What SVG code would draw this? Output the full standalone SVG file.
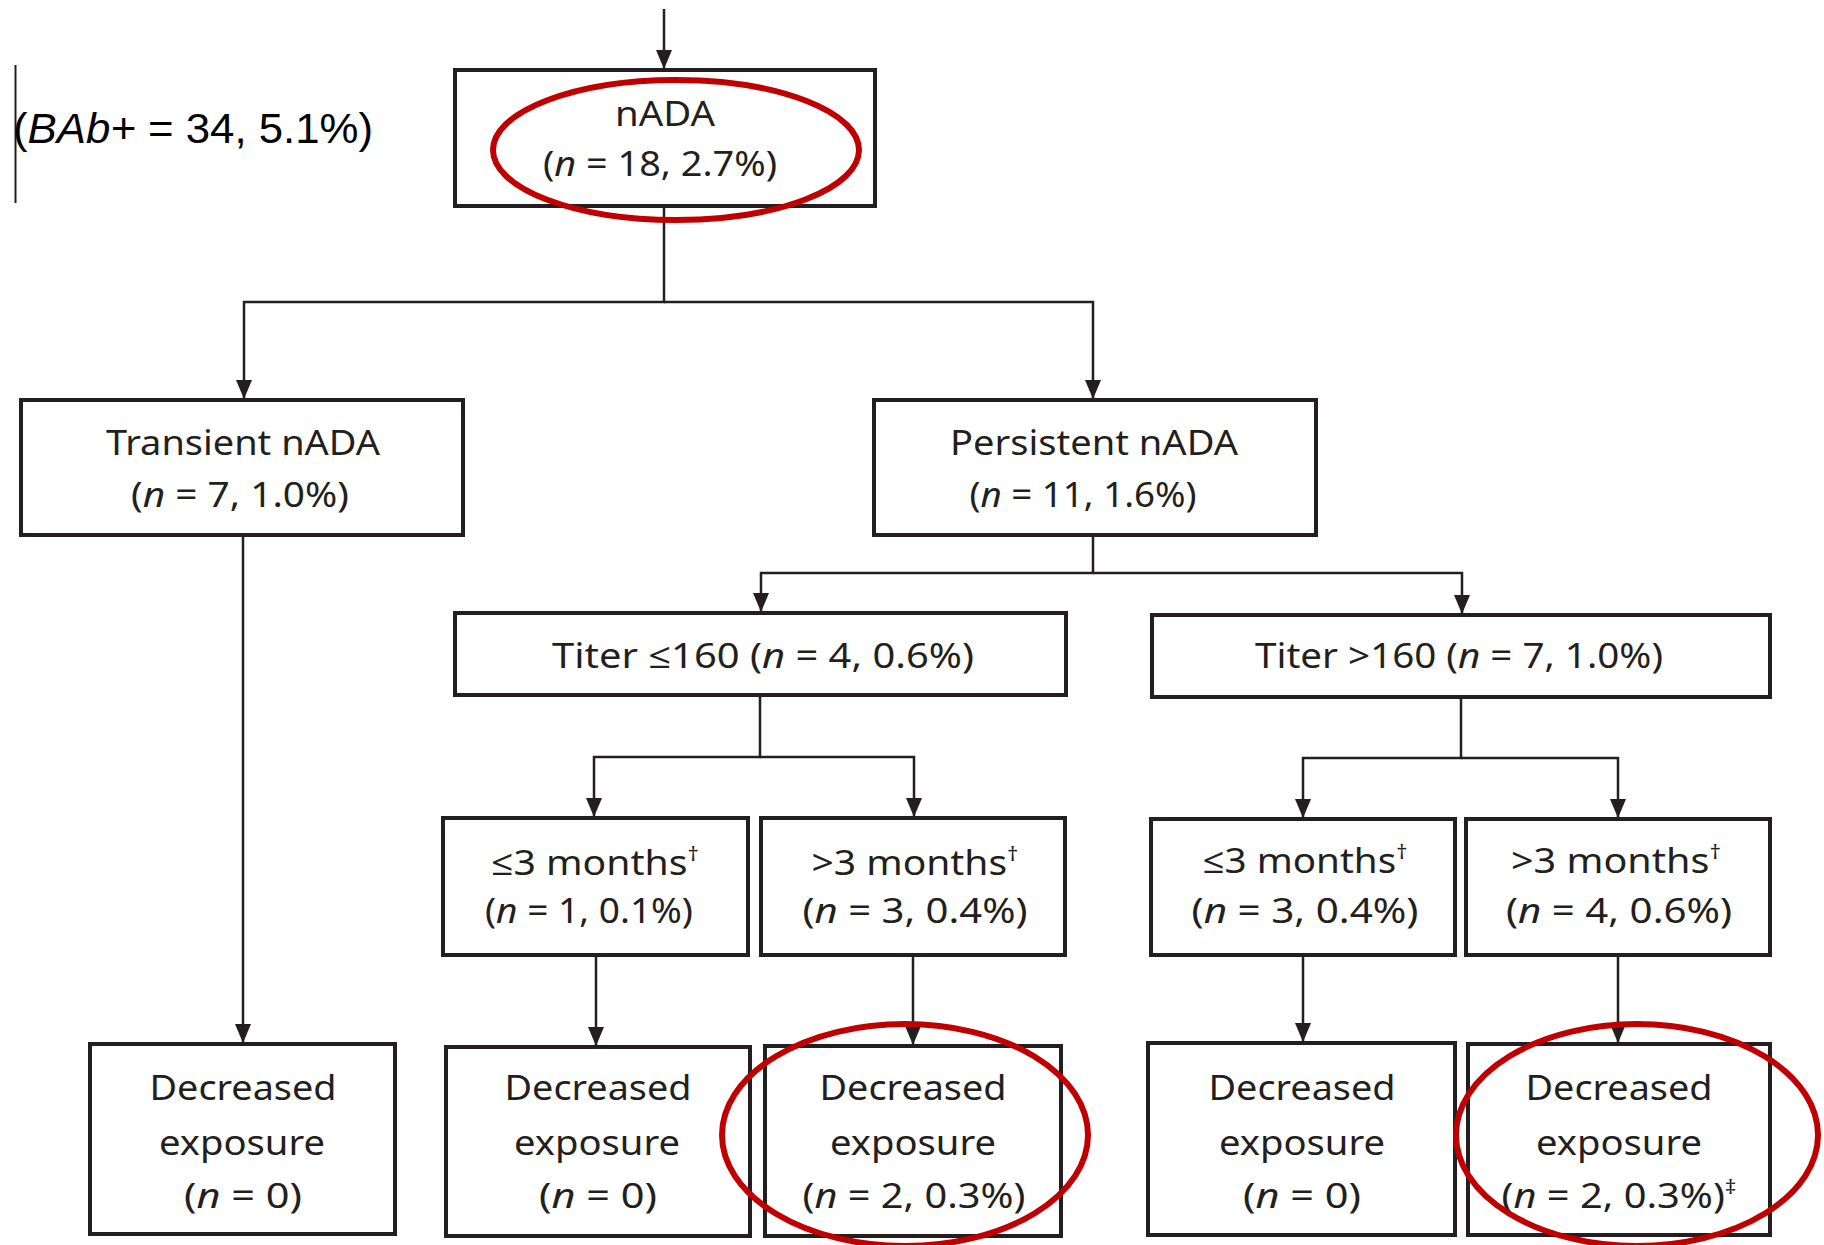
<svg xmlns="http://www.w3.org/2000/svg" width="1824" height="1245" viewBox="0 0 1824 1245">
<defs>
<marker id="ah" markerUnits="userSpaceOnUse" markerWidth="18" markerHeight="20" refX="9" refY="19" orient="0" viewBox="0 0 18 20">
<path d="M1,0 L17,0 L9,19 Z" fill="#231f20"/>
</marker>
<style>
.box{fill:#fff;stroke:#231f20;stroke-width:4}
.con{fill:none;stroke:#231f20;stroke-width:2.5;marker-end:url(#ah)}
.t{font-family:"Noto Sans","Open Sans",sans-serif;font-size:35px;fill:#231f20;text-anchor:middle}
.i{font-style:italic}
.sup{font-size:20px}
.red{fill:none;stroke:#c00000;stroke-width:6}
</style>
</defs>
<rect width="1824" height="1245" fill="#fff"/>

<g id="label-bab">
<line x1="15.5" y1="65" x2="15.5" y2="203" stroke="#231f20" stroke-width="2"/>
<text x="13" y="143" font-family="'Liberation Sans',Arial,sans-serif" font-size="42" fill="#000" textLength="360" lengthAdjust="spacingAndGlyphs">(<tspan font-style="italic">BAb+</tspan> = 34, 5.1%)</text>
</g>

<g id="connectors">
<path class="con" d="M664,9 V69"/>
<path class="con" d="M664,206 V302 H244 V399"/>
<path class="con" d="M664,302 H1093 V399"/>
<path class="con" d="M1093,535 V573 H761 V612"/>
<path class="con" d="M1093,573 H1462 V614"/>
<path class="con" d="M760,695 V757 H594 V817"/>
<path class="con" d="M760,757 H914 V817"/>
<path class="con" d="M1461,697 V758 H1303 V818"/>
<path class="con" d="M1461,758 H1618 V818"/>
<path class="con" d="M243,535 V1043"/>
<path class="con" d="M596,955 V1046"/>
<path class="con" d="M913,955 V1045"/>
<path class="con" d="M1303,955 V1042"/>
<path class="con" d="M1618,955 V1043"/>
</g>

<g id="node-nada">
<rect class="box" x="455" y="70" width="420" height="136"/>
<text class="t" x="665" y="126" textLength="100" lengthAdjust="spacingAndGlyphs">nADA</text>
<text class="t" x="660" y="176" textLength="234" lengthAdjust="spacingAndGlyphs">(<tspan class="i">n</tspan> = 18, 2.7%)</text>
</g>

<g id="node-transient">
<rect class="box" x="21" y="400" width="442" height="135"/>
<text class="t" x="243" y="455" textLength="274" lengthAdjust="spacingAndGlyphs">Transient nADA</text>
<text class="t" x="240" y="507" textLength="218" lengthAdjust="spacingAndGlyphs">(<tspan class="i">n</tspan> = 7, 1.0%)</text>
</g>

<g id="node-persistent">
<rect class="box" x="874" y="400" width="442" height="135"/>
<text class="t" x="1094" y="455" textLength="288" lengthAdjust="spacingAndGlyphs">Persistent nADA</text>
<text class="t" x="1083" y="507" textLength="227" lengthAdjust="spacingAndGlyphs">(<tspan class="i">n</tspan> = 11, 1.6%)</text>
</g>

<g id="node-titer-low">
<rect class="box" x="455" y="613" width="611" height="82"/>
<text class="t" x="763" y="668" textLength="422" lengthAdjust="spacingAndGlyphs">Titer ≤160 (<tspan class="i">n</tspan> = 4, 0.6%)</text>
</g>

<g id="node-titer-high">
<rect class="box" x="1152" y="615" width="618" height="82"/>
<text class="t" x="1459" y="668" textLength="408" lengthAdjust="spacingAndGlyphs">Titer &gt;160 (<tspan class="i">n</tspan> = 7, 1.0%)</text>
</g>

<g id="node-m1">
<rect class="box" x="443" y="818" width="305" height="137"/>
<text class="t" x="595" y="875" textLength="208" lengthAdjust="spacingAndGlyphs">≤3 months<tspan class="sup" dy="-14">†</tspan></text>
<text class="t" x="589" y="923" textLength="208" lengthAdjust="spacingAndGlyphs">(<tspan class="i">n</tspan> = 1, 0.1%)</text>
</g>

<g id="node-m2">
<rect class="box" x="761" y="818" width="304" height="137"/>
<text class="t" x="915" y="875" textLength="207" lengthAdjust="spacingAndGlyphs">&gt;3 months<tspan class="sup" dy="-14">†</tspan></text>
<text class="t" x="915" y="923" textLength="225" lengthAdjust="spacingAndGlyphs">(<tspan class="i">n</tspan> = 3, 0.4%)</text>
</g>

<g id="node-m3">
<rect class="box" x="1151" y="819" width="304" height="136"/>
<text class="t" x="1305" y="873" textLength="205" lengthAdjust="spacingAndGlyphs">≤3 months<tspan class="sup" dy="-14">†</tspan></text>
<text class="t" x="1305" y="923" textLength="227" lengthAdjust="spacingAndGlyphs">(<tspan class="i">n</tspan> = 3, 0.4%)</text>
</g>

<g id="node-m4">
<rect class="box" x="1466" y="819" width="304" height="136"/>
<text class="t" x="1616" y="873" textLength="210" lengthAdjust="spacingAndGlyphs">&gt;3 months<tspan class="sup" dy="-14">†</tspan></text>
<text class="t" x="1619" y="923" textLength="226" lengthAdjust="spacingAndGlyphs">(<tspan class="i">n</tspan> = 4, 0.6%)</text>
</g>

<g id="node-d1">
<rect class="box" x="90" y="1044" width="305" height="190"/>
<text class="t" x="243" y="1100" textLength="187" lengthAdjust="spacingAndGlyphs">Decreased</text>
<text class="t" x="242" y="1155" textLength="166" lengthAdjust="spacingAndGlyphs">exposure</text>
<text class="t" x="243" y="1208" textLength="118" lengthAdjust="spacingAndGlyphs">(<tspan class="i">n</tspan> = 0)</text>
</g>

<g id="node-d2">
<rect class="box" x="446" y="1047" width="304" height="189"/>
<text class="t" x="598" y="1100" textLength="187" lengthAdjust="spacingAndGlyphs">Decreased</text>
<text class="t" x="597" y="1155" textLength="166" lengthAdjust="spacingAndGlyphs">exposure</text>
<text class="t" x="598" y="1208" textLength="118" lengthAdjust="spacingAndGlyphs">(<tspan class="i">n</tspan> = 0)</text>
</g>

<g id="node-d3">
<rect class="box" x="765" y="1046" width="296" height="190"/>
<text class="t" x="913" y="1100" textLength="187" lengthAdjust="spacingAndGlyphs">Decreased</text>
<text class="t" x="913" y="1155" textLength="166" lengthAdjust="spacingAndGlyphs">exposure</text>
<text class="t" x="914" y="1208" textLength="223" lengthAdjust="spacingAndGlyphs">(<tspan class="i">n</tspan> = 2, 0.3%)</text>
</g>

<g id="node-d4">
<rect class="box" x="1148" y="1043" width="307" height="192"/>
<text class="t" x="1302" y="1100" textLength="187" lengthAdjust="spacingAndGlyphs">Decreased</text>
<text class="t" x="1302" y="1155" textLength="166" lengthAdjust="spacingAndGlyphs">exposure</text>
<text class="t" x="1302" y="1208" textLength="118" lengthAdjust="spacingAndGlyphs">(<tspan class="i">n</tspan> = 0)</text>
</g>

<g id="node-d5">
<rect class="box" x="1468" y="1044" width="302" height="191"/>
<text class="t" x="1619" y="1100" textLength="187" lengthAdjust="spacingAndGlyphs">Decreased</text>
<text class="t" x="1619" y="1155" textLength="166" lengthAdjust="spacingAndGlyphs">exposure</text>
<text class="t" x="1619" y="1208" textLength="235" lengthAdjust="spacingAndGlyphs">(<tspan class="i">n</tspan> = 2, 0.3%)<tspan class="sup" dy="-14">‡</tspan></text>
</g>

<g id="highlights">
<ellipse class="red" cx="676" cy="150" rx="183" ry="70"/>
<ellipse class="red" cx="905" cy="1135" rx="183" ry="111"/>
<ellipse class="red" cx="1637" cy="1135" rx="181" ry="111"/>
</g>
</svg>
